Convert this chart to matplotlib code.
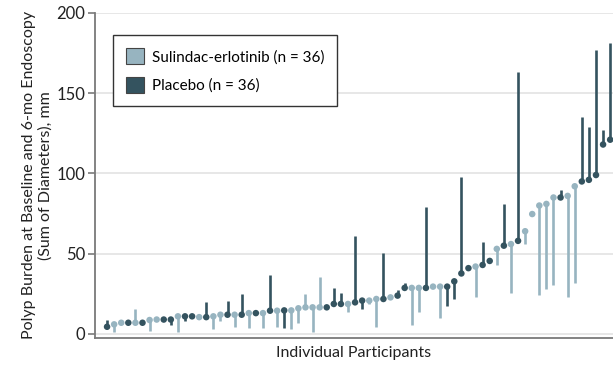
import matplotlib
matplotlib.use("Agg")
import matplotlib.pyplot as plt
from matplotlib.patches import Patch
import numpy as np

# participants sorted by baseline burden (mm); 1 = placebo, 0 = sulindac-erlotinib
baseline = [4.5, 6, 7, 7, 7, 7, 8.7, 9, 9, 9, 11, 11, 11, 10.5, 10.5, 11, 12, 12, 12, 12,
            13, 13, 13, 14.5, 14.5, 14.7, 14.7, 16, 16.6, 16.6, 16.6, 16.6, 18.7, 18.7, 18.7, 19.7,
            20.8, 20.8, 21.8, 21.8, 22.8, 23.9, 28.7, 28.7, 28.7, 28.7, 29.5, 29.5, 29.5, 32.8,
            37.7, 41, 42, 43, 45.5, 53, 55, 56, 58, 64, 74.7, 80, 81, 85, 85, 86,
            92, 95, 96, 99, 118, 121]
month6 = [9, 1, 7, 7, 15.5, 7, 2, 9, 9, 5.5, 1, 8, 11, 10.5, 19.7, 3, 8, 20.5, 4.5, 25,
          4, 13, 4, 36.7, 4.5, 3.5, 3, 6.7, 25, 1, 35.7, 16.6, 28.5, 25.7, 14, 61,
          15.4, 18.7, 4.5, 50.7, 22.8, 27.4, 31.6, 5.6, 14, 79, 29.5, 9.8, 17.6, 21.6,
          98, 41, 22.8, 57, 45.5, 43, 81, 25.7, 163, 56, 74.7, 24, 27.8, 30.5, 89.7, 22.8,
          32, 135, 129, 177, 127, 181.5]
placebo = [1, 0, 0, 1, 0, 1, 0, 0, 1, 1, 0, 1, 1, 0, 1, 0, 0, 1, 0, 1,
           0, 1, 0, 1, 0, 1, 0, 0, 0, 0, 0, 1, 1, 1, 0, 1,
           1, 0, 0, 1, 0, 1, 1, 0, 0, 1, 0, 0, 1, 1,
           1, 1, 0, 1, 1, 0, 1, 0, 1, 0, 0, 0, 0, 0, 1, 0,
           0, 1, 1, 1, 1, 1]

light = "#97b4c0"
dark = "#34535f"

plt.rcParams['font.family'] = ['Lato', 'DejaVu Sans']

fig = plt.figure(figsize=(6.13, 3.67), dpi=100)
ax = fig.add_axes([0.155, 0.079, 0.845, 0.886])

x = np.arange(len(baseline))
cols = [dark if p else light for p in placebo]
ax.vlines(x, baseline, month6, colors=cols, linewidth=1.9, zorder=2)
ax.scatter(x, baseline, s=22, c=cols, zorder=3, linewidths=0)

ax.set_xlim(-1.7, 71.4)
ax.set_ylim(-2.5, 200)
ax.set_yticks([0, 50, 100, 150, 200])
ax.set_xticks([])
ax.grid(axis='y', color='#e3e3e3', linewidth=1.2, zorder=0)
ax.set_axisbelow(True)
for s in ['top', 'right']:
    ax.spines[s].set_visible(False)
for s in ['left', 'bottom']:
    ax.spines[s].set_color('#7a7a7a')
    ax.spines[s].set_linewidth(1.3)
ax.tick_params(axis='y', length=5, width=1.2, color='#7a7a7a', labelsize=12,
               labelcolor='#222222', pad=2)

ax.set_ylabel('Polyp Burden at Baseline and 6-mo Endoscopy\n(Sum of Diameters), mm',
              fontsize=11.5, color='#222222', labelpad=3, linespacing=1.15)
ax.set_xlabel('Individual Participants', fontsize=11.5, color='#222222', labelpad=6)

handles = [Patch(facecolor=light, edgecolor='#444444', linewidth=0.8),
           Patch(facecolor=dark, edgecolor='#444444', linewidth=0.8)]
leg = ax.legend(handles, ['Sulindac-erlotinib (n = 36)', 'Placebo (n = 36)'],
                loc='upper left', bbox_to_anchor=(0.02, 0.955), fontsize=11,
                fancybox=False, edgecolor='#333333', framealpha=1,
                handlelength=1.2, handleheight=1.25, borderpad=0.85, labelspacing=0.8,
                handletextpad=0.5)
leg.get_frame().set_linewidth(1.0)

fig.savefig('out.png', dpi=100)
